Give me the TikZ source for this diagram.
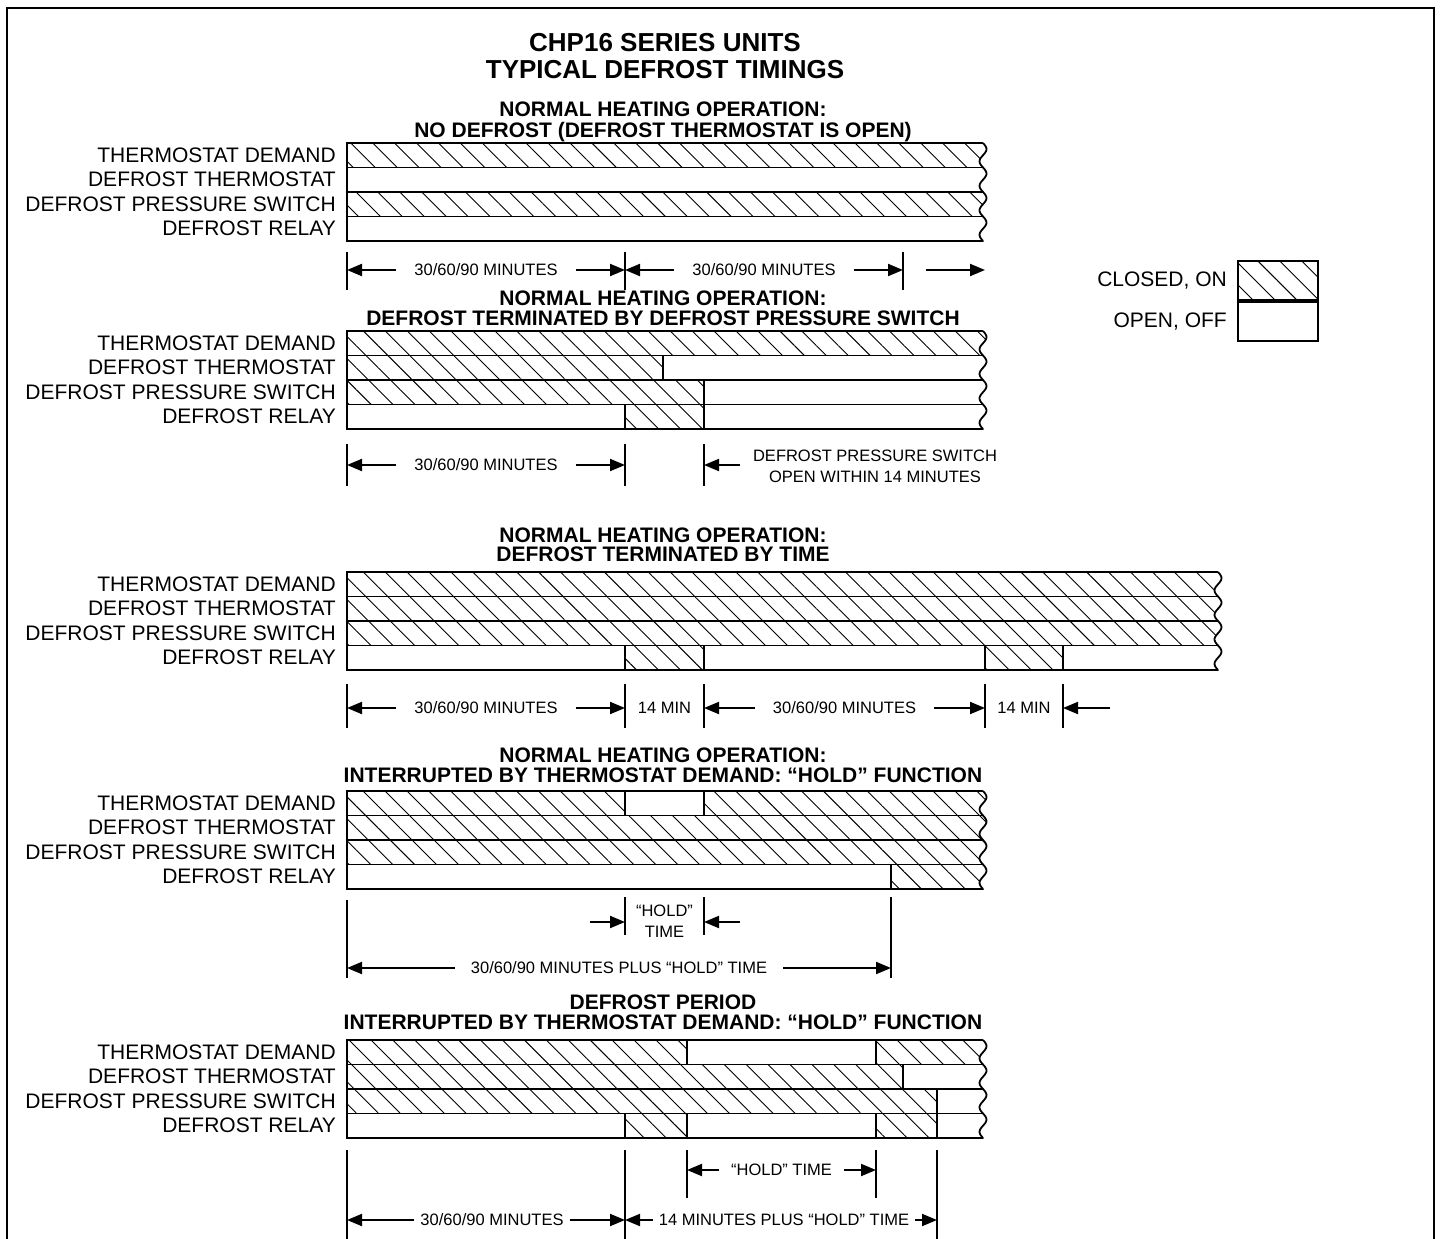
\documentclass[tikz,border=0pt]{standalone}
\usepackage{fontspec}
\setmainfont{Liberation Sans}
\usetikzlibrary{positioning, calc, patterns, patterns.meta, arrows.meta}

\begin{document}
\begin{tikzpicture}[
    x=1pt, y=-1pt,
    lbl/.style={anchor=east, inner sep=0pt, font=\fontsize{21}{21}\selectfont},
    head/.style={anchor=base, inner sep=0pt, font=\bfseries\fontsize{21}{21}\selectfont},
    ttl/.style={anchor=base, inner sep=0pt, font=\bfseries\fontsize{26}{26}\selectfont},
    dimtxt/.style={inner sep=0pt, align=center, font=\fontsize{16.5}{21}\selectfont},
    row/.style={draw, line width=1.8pt},
    on/.style={row, pattern={Lines[angle=-45, distance=15.5pt, line width=0.9pt]}},
    tick/.style={line width=2pt},
    dimarr/.style={line width=2pt, -{Triangle[length=15pt, width=12pt]}}
]
\useasboundingbox (0,0) rectangle (1441,1239);

% Frame and title
\draw[line width=2pt] (7,1260) -- (7,8) -- (1434,8) -- (1434,1260);
\node[ttl] (title1) at (665,52) {CHP16 SERIES UNITS};
\node[ttl] (title2) at (665,78) {TYPICAL DEFROST TIMINGS};

% Headings
\node[head] (h1a) at (663,117) {NORMAL HEATING OPERATION:};
\node[head] (h1b) at (663,137) {NO DEFROST (DEFROST THERMOSTAT IS OPEN)};
\node[head] (h2a) at (663,305) {NORMAL HEATING OPERATION:};
\node[head] (h2b) at (663,325) {DEFROST TERMINATED BY DEFROST PRESSURE SWITCH};
\node[head] (h3a) at (663,542) {NORMAL HEATING OPERATION:};
\node[head] (h3b) at (663,561) {DEFROST TERMINATED BY TIME};
\node[head] (h4a) at (663,762) {NORMAL HEATING OPERATION:};
\node[head] (h4b) at (663,782) {INTERRUPTED BY THERMOSTAT DEMAND: “HOLD” FUNCTION};
\node[head] (h5a) at (663,1009) {DEFROST PERIOD};
\node[head] (h5b) at (663,1029) {INTERRUPTED BY THERMOSTAT DEMAND: “HOLD” FUNCTION};

% Timing bars: top / wavy edge / closed segments (row/from/to)
\foreach \yt/\xr/\segs in {
    143/983/{0/347/993, 2/347/993},
    331/983/{0/347/993, 1/347/663, 2/347/704, 3/625/704},
    572/1218/{0/347/1228, 1/347/1228, 2/347/1228, 3/625/704, 3/985/1063},
    791/983/{0/347/625, 0/704/993, 1/347/993, 2/347/993, 3/891/993},
    1040/983/{0/347/687, 0/876/993, 1/347/903, 2/347/937, 3/625/687, 3/876/937}} {
  \pgfmathsetmacro\ya{\yt-3}
  \pgfmathsetmacro\yb{\yt+101}
  \pgfmathsetmacro\yc{\yt+98}
  \begin{scope}
    \clip (330,\ya) -- plot[variable=\u, domain=\ya:\yb, samples=60, smooth] ({\xr+3.5*sin(14.7*(\u-\yt))}, \u) -- (330,\yb) -- cycle;
    \draw[row] (347,\yt) rectangle (\xr+10,\yt+98);
    \foreach \i in {1,2,3}
      \draw[row] (347,\yt+\i*24.5) -- (\xr+10,\yt+\i*24.5);
    \foreach \ra/\xa/\xb in \segs
      \draw[on] (\xa,\yt+\ra*24.5) rectangle (\xb,\yt+\ra*24.5+24.5);
  \end{scope}
  \draw[row] plot[variable=\u, domain=\yt:\yc, samples=60, smooth] ({\xr+3.5*sin(14.7*(\u-\yt))}, \u);
  \foreach \lab [count=\i from 0] in {THERMOSTAT DEMAND, DEFROST THERMOSTAT, DEFROST PRESSURE SWITCH, DEFROST RELAY}
    \node[lbl] (lab\yt-\i) at (336,\yt+12.25+\i*24.5) {\lab};
}

% Legend
\node[on, minimum width=80pt, minimum height=39pt, inner sep=0pt, anchor=north west] (keyon) at (1237,260) {};
\node[row, minimum width=80pt, minimum height=39pt, inner sep=0pt, anchor=north] (keyoff) at (keyon.south) {};
\node[lbl, left=10pt of keyon] (closed) {CLOSED, ON};
\node[lbl, left=10pt of keyoff] (open) {OPEN, OFF};

% Block 1 timings
\coordinate (k1a) at (347,252);
\coordinate (k1b) at (625,252);
\coordinate (k1c) at (903,252);
\foreach \k in {k1a,k1b,k1c} \draw[tick] (\k) -- ++(0,38);
\node[dimtxt] (m1a) at (486,270) {30/60/90 MINUTES};
\node[dimtxt] (m1b) at (764,270) {30/60/90 MINUTES};
\draw[dimarr] ([xshift=-18pt]m1a.west) -- (m1a.west -| k1a);
\draw[dimarr] ([xshift=18pt]m1a.east) -- (m1a.east -| k1b);
\draw[dimarr] ([xshift=-18pt]m1b.west) -- (m1b.west -| k1b);
\draw[dimarr] ([xshift=18pt]m1b.east) -- (m1b.east -| k1c);
\coordinate (a1s) at (926,270);
\coordinate (a1e) at (985,270);
\draw[dimarr] (a1s) -- (a1e);

% Block 2 timings
\coordinate (k2a) at (347,444);
\coordinate (k2b) at (625,444);
\coordinate (k2c) at (704,444);
\foreach \k in {k2a,k2b,k2c} \draw[tick] (\k) -- ++(0,42);
\node[dimtxt] (m2a) at (486,465) {30/60/90 MINUTES};
\draw[dimarr] ([xshift=-18pt]m2a.west) -- (m2a.west -| k2a);
\draw[dimarr] ([xshift=18pt]m2a.east) -- (m2a.east -| k2b);
\coordinate (a2s) at (740,465);
\draw[dimarr] (a2s) -- (a2s -| k2c);
\node[dimtxt] (m2b) at (875,466) {DEFROST PRESSURE SWITCH\\OPEN WITHIN 14 MINUTES};

% Block 3 timings
\coordinate (k3a) at (347,684);
\coordinate (k3b) at (625,684);
\coordinate (k3c) at (704,684);
\coordinate (k3d) at (985,684);
\coordinate (k3e) at (1063,684);
\foreach \k in {k3a,k3b,k3c,k3d,k3e} \draw[tick] (\k) -- ++(0,44);
\node[dimtxt] (m3a) at (486,708) {30/60/90 MINUTES};
\node[dimtxt] (m3b) at (664.5,708) {14 MIN};
\node[dimtxt] (m3c) at (844.5,708) {30/60/90 MINUTES};
\node[dimtxt] (m3d) at (1024,708) {14 MIN};
\draw[dimarr] ([xshift=-18pt]m3a.west) -- (m3a.west -| k3a);
\draw[dimarr] ([xshift=18pt]m3a.east) -- (m3a.east -| k3b);
\draw[dimarr] ([xshift=-18pt]m3c.west) -- (m3c.west -| k3c);
\draw[dimarr] ([xshift=18pt]m3c.east) -- (m3c.east -| k3d);
\coordinate (a3s) at (1110,708);
\draw[dimarr] (a3s) -- (a3s -| k3e);

% Block 4 timings
\coordinate (k4a) at (347,900);
\coordinate (k4b) at (625,897);
\coordinate (k4c) at (704,897);
\coordinate (k4d) at (891,897);
\draw[tick] (k4a) -- ++(0,78);
\draw[tick] (k4d) -- ++(0,81);
\draw[tick] (k4b) -- ++(0,38);
\draw[tick] (k4c) -- ++(0,38);
\node[dimtxt] (m4a) at (664.5,921) {“HOLD”\\TIME};
\coordinate (a4s) at (590,922);
\coordinate (a4t) at (740,922);
\draw[dimarr] (a4s) -- (a4s -| k4b);
\draw[dimarr] (a4t) -- (a4t -| k4c);
\node[dimtxt] (m4b) at (619,968) {30/60/90 MINUTES PLUS “HOLD” TIME};
\draw[dimarr] ([xshift=-16pt]m4b.west) -- (m4b.west -| k4a);
\draw[dimarr] ([xshift=16pt]m4b.east) -- (m4b.east -| k4d);

% Block 5 timings
\coordinate (k5a) at (347,1150);
\coordinate (k5b) at (625,1150);
\coordinate (k5c) at (687,1150);
\coordinate (k5d) at (876,1150);
\coordinate (k5e) at (937,1150);
\foreach \k in {k5a,k5b,k5e} \draw[tick] (\k) -- ++(0,110);
\foreach \k in {k5c,k5d} \draw[tick] (\k) -- ++(0,48);
\node[dimtxt] (m5a) at (781.5,1170) {“HOLD” TIME};
\draw[dimarr] ([xshift=-12pt]m5a.west) -- (m5a.west -| k5c);
\draw[dimarr] ([xshift=12pt]m5a.east) -- (m5a.east -| k5d);
\node[dimtxt] (m5b) at (492,1220) {30/60/90 MINUTES};
\node[dimtxt] (m5c) at (784,1220) {14 MINUTES PLUS “HOLD” TIME};
\draw[dimarr] ([xshift=-6pt]m5b.west) -- (m5b.west -| k5a);
\draw[dimarr] ([xshift=6pt]m5b.east) -- (m5b.east -| k5b);
\draw[dimarr] ([xshift=-6pt]m5c.west) -- (m5c.west -| k5b);
\draw[dimarr] ([xshift=6pt]m5c.east) -- (m5c.east -| k5e);

\end{tikzpicture}
\end{document}
